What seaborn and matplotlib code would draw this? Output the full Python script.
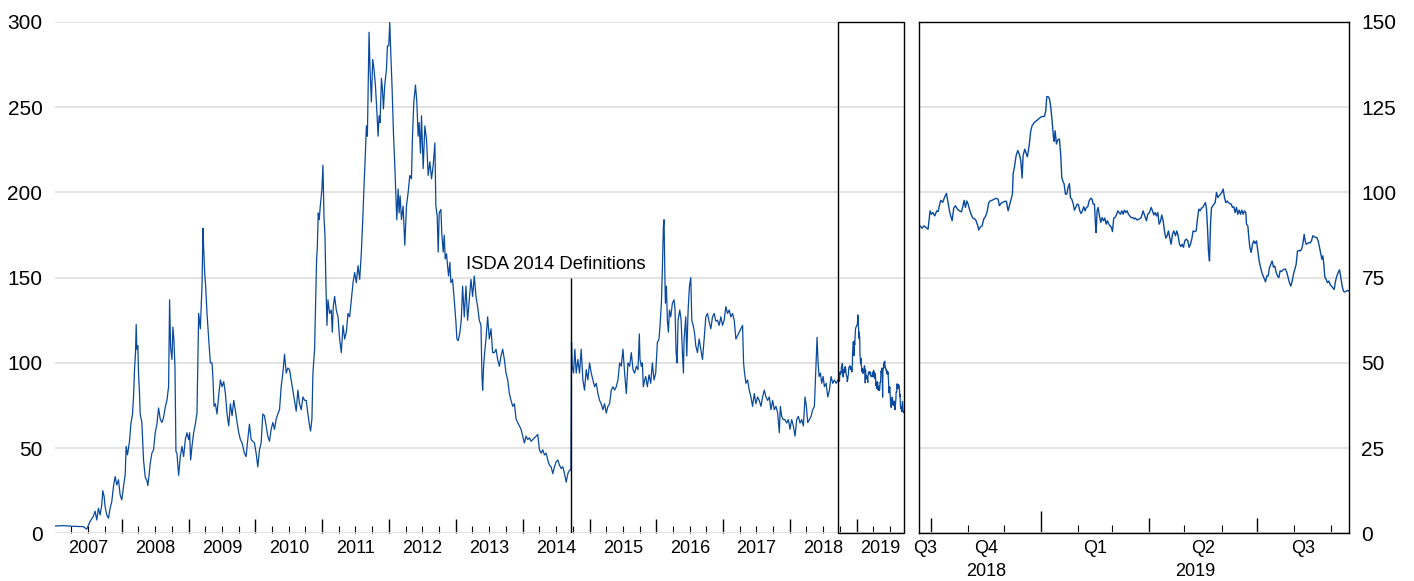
import numpy as np
import pandas as pd
import matplotlib
matplotlib.use('Agg')
import matplotlib.pyplot as plt
import matplotlib.transforms as mtransforms
from matplotlib.patches import Rectangle
import seaborn as sns

# serie larga, en anos decimales (2007 - sep 2018)
hist_t = [
    2007.000, 2007.125, 2007.275, 2007.425, 2007.475, 2007.525, 2007.575, 2007.600, 2007.625, 2007.650,
    2007.675, 2007.700, 2007.715, 2007.735, 2007.750, 2007.775, 2007.800, 2007.825, 2007.850, 2007.875,
    2007.900, 2007.925, 2007.950, 2007.975,
    2008.000, 2008.025, 2008.050, 2008.065, 2008.085, 2008.115, 2008.135, 2008.160, 2008.175, 2008.190,
    2008.205, 2008.215, 2008.225, 2008.240, 2008.250, 2008.265, 2008.275, 2008.300, 2008.325, 2008.350,
    2008.375, 2008.390, 2008.410, 2008.425, 2008.450, 2008.475, 2008.500, 2008.525, 2008.550, 2008.575,
    2008.600, 2008.625, 2008.650, 2008.675, 2008.700, 2008.715, 2008.730, 2008.750, 2008.765, 2008.780,
    2008.795, 2008.810, 2008.825, 2008.850, 2008.875, 2008.900, 2008.925, 2008.950, 2008.975,
    2009.000, 2009.015, 2009.030, 2009.050, 2009.075, 2009.100, 2009.125, 2009.150, 2009.175, 2009.200,
    2009.215, 2009.225, 2009.240, 2009.255, 2009.275, 2009.300, 2009.325, 2009.350, 2009.365, 2009.380,
    2009.400, 2009.425, 2009.450, 2009.475, 2009.500, 2009.525, 2009.550, 2009.575, 2009.600, 2009.625,
    2009.650, 2009.675, 2009.700, 2009.725, 2009.750, 2009.775, 2009.800, 2009.835, 2009.860, 2009.885,
    2009.910, 2009.935, 2009.960, 2009.985,
    2010.010, 2010.035, 2010.060, 2010.085, 2010.110, 2010.135, 2010.160, 2010.185, 2010.210, 2010.235,
    2010.260, 2010.285, 2010.310, 2010.335, 2010.360, 2010.385, 2010.410, 2010.435, 2010.460, 2010.485,
    2010.510, 2010.535, 2010.560, 2010.585, 2010.610, 2010.635, 2010.660, 2010.685, 2010.710, 2010.735,
    2010.760, 2010.785, 2010.810, 2010.825, 2010.845, 2010.860, 2010.885, 2010.900, 2010.915, 2010.925,
    2010.940, 2010.955, 2010.970, 2010.995,
    2011.010, 2011.025, 2011.040, 2011.055, 2011.070, 2011.085, 2011.110, 2011.135, 2011.150, 2011.165,
    2011.185, 2011.210, 2011.235, 2011.260, 2011.285, 2011.310, 2011.335, 2011.360, 2011.385, 2011.410,
    2011.435, 2011.460, 2011.485, 2011.510, 2011.535, 2011.560, 2011.585, 2011.610, 2011.625, 2011.645,
    2011.660, 2011.675, 2011.690, 2011.700, 2011.715, 2011.735, 2011.755, 2011.775, 2011.795, 2011.815,
    2011.835, 2011.850, 2011.865, 2011.885, 2011.900, 2011.915, 2011.935, 2011.960, 2011.975, 2011.995,
    2012.010, 2012.025, 2012.045, 2012.065, 2012.085, 2012.100, 2012.115, 2012.135, 2012.150, 2012.165,
    2012.185, 2012.210, 2012.235, 2012.260, 2012.285, 2012.310, 2012.335, 2012.350, 2012.370, 2012.395,
    2012.415, 2012.435, 2012.450, 2012.470, 2012.485, 2012.510, 2012.535, 2012.560, 2012.585, 2012.610,
    2012.635, 2012.660, 2012.685, 2012.700, 2012.720, 2012.735, 2012.750, 2012.775, 2012.790, 2012.810,
    2012.825, 2012.840, 2012.860, 2012.875, 2012.890, 2012.910, 2012.925, 2012.950, 2012.975,
    2013.000, 2013.015, 2013.035, 2013.060, 2013.080, 2013.100, 2013.125, 2013.150, 2013.175, 2013.200,
    2013.225, 2013.250, 2013.275, 2013.300, 2013.325, 2013.350, 2013.375, 2013.390, 2013.400, 2013.415,
    2013.430, 2013.450, 2013.475, 2013.500, 2013.525, 2013.550, 2013.575, 2013.600, 2013.625, 2013.650,
    2013.675, 2013.700, 2013.725, 2013.750, 2013.775, 2013.800, 2013.825, 2013.850, 2013.875, 2013.900,
    2013.925, 2013.950, 2013.975,
    2014.000, 2014.025, 2014.050, 2014.075, 2014.100, 2014.125, 2014.150, 2014.175, 2014.200, 2014.225,
    2014.250, 2014.275, 2014.300, 2014.325, 2014.350, 2014.375, 2014.400, 2014.425, 2014.450, 2014.475,
    2014.500, 2014.525, 2014.550, 2014.575, 2014.600, 2014.625, 2014.650, 2014.675, 2014.700, 2014.720,
    2014.730, 2014.740, 2014.760, 2014.780, 2014.800, 2014.825, 2014.850, 2014.875, 2014.900, 2014.925,
    2014.950, 2014.975,
    2015.000, 2015.025, 2015.050, 2015.075, 2015.100, 2015.125, 2015.150, 2015.175, 2015.200, 2015.225,
    2015.250, 2015.275, 2015.300, 2015.325, 2015.350, 2015.375, 2015.400, 2015.425, 2015.450, 2015.475,
    2015.500, 2015.525, 2015.550, 2015.575, 2015.600, 2015.625, 2015.650, 2015.675, 2015.700, 2015.725,
    2015.745, 2015.755, 2015.775, 2015.790, 2015.805, 2015.825, 2015.840, 2015.865, 2015.890, 2015.915,
    2015.940, 2015.965, 2015.990,
    2016.015, 2016.040, 2016.055, 2016.075, 2016.090, 2016.105, 2016.115, 2016.125, 2016.135, 2016.150,
    2016.165, 2016.180, 2016.195, 2016.215, 2016.240, 2016.265, 2016.280, 2016.295, 2016.310, 2016.325,
    2016.350, 2016.370, 2016.390, 2016.405, 2016.415, 2016.440, 2016.455, 2016.475, 2016.495, 2016.515,
    2016.530, 2016.550, 2016.570, 2016.590, 2016.615, 2016.640, 2016.665, 2016.690, 2016.715, 2016.740,
    2016.765, 2016.790, 2016.815, 2016.840, 2016.865, 2016.890, 2016.915, 2016.940, 2016.965, 2016.990,
    2017.015, 2017.040, 2017.065, 2017.090, 2017.115, 2017.140, 2017.165, 2017.190, 2017.215, 2017.240,
    2017.265, 2017.290, 2017.305, 2017.320, 2017.340, 2017.365, 2017.390, 2017.415, 2017.440, 2017.465,
    2017.490, 2017.515, 2017.540, 2017.565, 2017.590, 2017.615, 2017.640, 2017.665, 2017.690, 2017.715,
    2017.740, 2017.765, 2017.790, 2017.815, 2017.840, 2017.855, 2017.875, 2017.900, 2017.925, 2017.950,
    2017.975,
    2018.000, 2018.025, 2018.050, 2018.075, 2018.100, 2018.125, 2018.150, 2018.175, 2018.200, 2018.225,
    2018.245, 2018.265, 2018.290, 2018.315, 2018.340, 2018.365, 2018.380, 2018.395, 2018.405, 2018.420,
    2018.435, 2018.455, 2018.475, 2018.495, 2018.515, 2018.540, 2018.565, 2018.590, 2018.615, 2018.640,
    2018.665, 2018.690,
]
hist_v = [
    4.3, 4.5, 4.1, 3.9, 2.4, 7, 10, 13, 7.8, 14.7,
    10.8, 16.7, 25, 21.6, 15.7, 10.8, 8.8, 14.7, 18.6, 27.5,
    33.3, 28.4, 31.4, 22.5,
    19.6, 27.5, 34.3, 51, 46, 54, 64, 70, 80, 96,
    106, 122.5, 108, 110, 94, 82, 70, 65, 43, 33,
    31, 28, 35, 41, 47, 49, 59, 64, 73.5, 67,
    65, 68, 74, 78, 86, 137, 109, 102, 121, 113,
    98, 48, 47, 34, 45, 51, 45, 55, 59,
    55, 59, 43, 51, 59, 64, 70.6, 129, 120, 145,
    179, 167, 153, 145, 129, 114, 100, 100, 90, 74.5,
    76, 70, 81, 90, 86, 89, 82, 70, 63, 76,
    69, 78, 72, 65, 59, 55, 53, 47, 45, 55,
    64, 55, 54, 53,
    47, 39, 49, 53, 70, 69, 63, 57, 54, 61,
    65, 61, 67, 70, 72.5, 86, 94, 105, 94, 97,
    96, 90, 84, 78, 71.6, 84, 76, 72.5, 80, 78,
    78, 70, 63, 60, 67, 94, 108, 135, 161, 167,
    188, 184, 192, 202,
    216, 186, 175, 145, 122, 137, 129, 131, 118, 133,
    139, 131, 127, 114, 106, 122, 114, 118, 129, 127,
    137, 147, 153, 147, 157, 149, 165, 188, 204, 223,
    239, 233, 269, 294, 272, 253, 278, 272, 263, 249,
    233, 245, 241, 267, 261, 249, 263, 272, 286, 286,
    300, 282, 261, 235, 216, 200, 184, 202, 188, 198,
    184, 192, 169, 192, 200, 210, 208, 233, 253, 263,
    253, 233, 241, 223, 245, 214, 239, 231, 210, 218,
    208, 216, 229, 192, 186, 165, 188, 190, 175, 165,
    175, 161, 164, 157, 151, 159, 147, 149, 137,
    124, 114, 113, 118, 125, 145, 127, 145, 125, 137,
    149, 139, 151, 139, 133, 125, 122, 92, 84, 98,
    106, 114, 127, 114, 120, 106, 106, 108, 102, 98,
    104, 108, 102, 94, 90, 82, 78, 74.5, 76, 67,
    65, 63, 61,
    57, 53, 57, 55, 56, 54, 55, 56, 57, 58,
    49, 47, 49, 46, 47, 43, 40, 39, 35, 39,
    42, 43, 40, 38, 39, 35, 30, 35, 37, 37,
    112, 98, 94, 108, 94, 102, 94, 108, 90, 84,
    96, 90,
    100, 94, 90, 86, 88, 82, 78, 76, 72.5, 76,
    70.6, 74.5, 76, 84, 86, 84, 86, 90, 100, 98,
    108, 94, 82, 100, 98, 106, 96, 94, 98, 96,
    117, 102, 98, 100, 86, 90, 92, 86, 93, 88,
    100, 90, 94,
    112, 114, 122, 135, 155, 180, 184, 157, 135, 145,
    125, 118, 131, 127, 135, 137, 131, 106, 100, 125,
    131, 125, 106, 94, 114, 127, 104, 131, 145, 150,
    125, 122, 118, 110, 106, 114, 108, 102, 114, 127,
    129, 124, 120, 127, 129, 124.5, 125, 122, 127, 122,
    125, 133, 129, 131, 127, 129, 125, 114, 116, 118,
    120, 122, 100, 94, 88, 90, 84, 80, 74.5, 82,
    76, 80, 78, 74.5, 80, 84, 80, 78, 80, 72.5,
    78, 72.5, 74.5, 70.6, 59, 74.5, 68.6, 66.7, 66.7, 64.7,
    66.7,
    61, 66.7, 63, 57, 66.7, 68.6, 64.7, 66.7, 63, 80,
    74.5, 65, 66.7, 68.6, 72.5, 74.5, 90, 106, 115, 100,
    92, 94, 88, 92, 86, 88, 80, 84, 92, 88,
    90, 88,
]

# ultimos doce meses, con mas detalle (sep 2018 - sep 2019)
recent_t = [
    2018.7225, 2018.7271, 2018.7316, 2018.7362, 2018.7408, 2018.7454, 2018.7485, 2018.7515, 2018.7561, 2018.7607,
    2018.7638, 2018.7668, 2018.7699, 2018.7745, 2018.7790, 2018.7829, 2018.7867, 2018.7898, 2018.7928, 2018.7959,
    2018.7997, 2018.8035, 2018.8081, 2018.8127, 2018.8173, 2018.8203, 2018.8234, 2018.8264, 2018.8295, 2018.8326,
    2018.8356, 2018.8394, 2018.8433, 2018.8478, 2018.8509, 2018.8547, 2018.8570, 2018.8609, 2018.8647, 2018.8685,
    2018.8723, 2018.8761, 2018.8800, 2018.8830, 2018.8876, 2018.8922, 2018.8968, 2018.9014, 2018.9044, 2018.9082,
    2018.9121, 2018.9166, 2018.9205, 2018.9243, 2018.9273, 2018.9312, 2018.9342, 2018.9358, 2018.9388, 2018.9427,
    2018.9465, 2018.9503, 2018.9534, 2018.9564, 2018.9587, 2018.9625, 2018.9664, 2018.9686, 2018.9725, 2018.9763,
    2018.9794, 2018.9847, 2018.9901, 2018.9947, 2018.9992, 2019.0038, 2019.0076, 2019.0107, 2019.0130, 2019.0160,
    2019.0191, 2019.0222, 2019.0252, 2019.0283, 2019.0298, 2019.0321, 2019.0351, 2019.0382, 2019.0420, 2019.0451,
    2019.0474, 2019.0497, 2019.0527, 2019.0558, 2019.0589, 2019.0619, 2019.0650, 2019.0672, 2019.0703, 2019.0734,
    2019.0764, 2019.0795, 2019.0826, 2019.0856, 2019.0887, 2019.0917, 2019.0948, 2019.0978, 2019.1009, 2019.1039,
    2019.1070, 2019.1101, 2019.1139, 2019.1169, 2019.1192, 2019.1223, 2019.1246, 2019.1261, 2019.1284, 2019.1307,
    2019.1338, 2019.1368, 2019.1399, 2019.1430, 2019.1460, 2019.1491, 2019.1521, 2019.1552, 2019.1582, 2019.1613,
    2019.1636, 2019.1666, 2019.1697, 2019.1727, 2019.1758, 2019.1789, 2019.1819, 2019.1850, 2019.1881, 2019.1911,
    2019.1942, 2019.1972, 2019.2003, 2019.2034, 2019.2064, 2019.2102, 2019.2140, 2019.2156, 2019.2202, 2019.2247,
    2019.2293, 2019.2339, 2019.2377, 2019.2416, 2019.2446, 2019.2484, 2019.2523, 2019.2553, 2019.2584, 2019.2614,
    2019.2645, 2019.2676, 2019.2706, 2019.2737, 2019.2767, 2019.2798, 2019.2829, 2019.2859, 2019.2890, 2019.2920,
    2019.2951, 2019.2981, 2019.3012, 2019.3043, 2019.3081, 2019.3111, 2019.3142, 2019.3173, 2019.3203, 2019.3234,
    2019.3264, 2019.3295, 2019.3325, 2019.3364, 2019.3394, 2019.3425, 2019.3455, 2019.3486, 2019.3524, 2019.3555,
    2019.3585, 2019.3616, 2019.3647, 2019.3677, 2019.3708, 2019.3738, 2019.3769, 2019.3792, 2019.3815, 2019.3838,
    2019.3861, 2019.3884, 2019.3906, 2019.3937, 2019.3968, 2019.3991, 2019.4021, 2019.4052, 2019.4082, 2019.4113,
    2019.4144, 2019.4174, 2019.4205, 2019.4235, 2019.4266, 2019.4296, 2019.4327, 2019.4358, 2019.4388, 2019.4419,
    2019.4449, 2019.4480, 2019.4510, 2019.4541, 2019.4572, 2019.4602, 2019.4633, 2019.4663, 2019.4694, 2019.4709,
    2019.4740, 2019.4763, 2019.4786, 2019.4816, 2019.4847, 2019.4877, 2019.4908, 2019.4939, 2019.4969, 2019.5000,
    2019.5030, 2019.5061, 2019.5091, 2019.5122, 2019.5145, 2019.5176, 2019.5206, 2019.5237, 2019.5267, 2019.5298,
    2019.5328, 2019.5359, 2019.5390, 2019.5420, 2019.5451, 2019.5481, 2019.5512, 2019.5542, 2019.5573, 2019.5604,
    2019.5634, 2019.5665, 2019.5695, 2019.5726, 2019.5757, 2019.5787, 2019.5818, 2019.5848, 2019.5879, 2019.5909,
    2019.5940, 2019.5971, 2019.6001, 2019.6032, 2019.6055, 2019.6078, 2019.6108, 2019.6139, 2019.6169, 2019.6200,
    2019.6231, 2019.6261, 2019.6292, 2019.6322, 2019.6353, 2019.6384, 2019.6414, 2019.6437, 2019.6460, 2019.6483,
    2019.6506, 2019.6536, 2019.6567, 2019.6598, 2019.6628, 2019.6659, 2019.6689, 2019.6720, 2019.6751, 2019.6781,
    2019.6812, 2019.6842, 2019.6873, 2019.6903, 2019.6934, 2019.6965, 2019.6995, 2019.7033, 2019.7060,
]
recent_v = [
    90.2, 89.5, 90.2, 89.7, 89.2, 94.6, 93.6, 94.1, 93.1, 94.6,
    94.4, 96.1, 97.7, 97.1, 98.7, 99.7, 97.0, 94.6, 93.1, 91.7,
    95.4, 96.1, 95.1, 94.6, 94.3, 95.8, 97.7, 95.6, 97.5, 96.6,
    95.1, 93.6, 92.5, 92.2, 91.7, 90.2, 89.0, 89.9, 90.2, 92.2,
    92.9, 94.3, 97.0, 97.5, 97.7, 98.0, 98.3, 98.0, 96.1, 96.8,
    97.1, 97.4, 97.4, 94.6, 96.1, 98.0, 99.5, 105.4, 107.4, 110.8,
    112.3, 111.1, 109.3, 104.2, 110.8, 112.7, 111.2, 110.5, 113.7, 118.1,
    119.6, 120.6, 121.1, 121.6, 122.1, 122.3, 122.3, 124.0, 128.1, 128.1,
    127.5, 125.0, 121.0, 116.2, 115.0, 118.1, 114.2, 115.4, 115.7, 110.8,
    104.4, 103.4, 102.5, 99.5, 99.5, 101.5, 102.6, 98.5, 98.0, 96.8,
    94.8, 95.6, 96.6, 96.4, 94.6, 93.8, 94.6, 95.8, 94.6, 95.6,
    95.8, 97.5, 98.3, 98.0, 96.6, 96.6, 90.7, 88.2, 94.6, 95.6,
    93.1, 91.2, 92.6, 91.7, 92.5, 90.7, 91.7, 90.7, 90.2, 89.7,
    88.5, 92.5, 92.7, 93.4, 94.6, 94.1, 93.6, 94.6, 93.6, 94.8,
    94.1, 94.6, 93.6, 93.1, 92.6, 92.6, 92.2, 92.5, 91.9, 92.2,
    92.6, 94.6, 93.1, 91.7, 93.6, 94.1, 95.6, 94.6, 93.4, 94.1,
    93.1, 94.1, 90.7, 91.5, 93.4, 91.7, 88.7, 86.6, 87.3, 88.7,
    86.6, 84.8, 87.7, 88.7, 87.3, 88.7, 87.3, 84.8, 84.1, 84.8,
    83.9, 85.8, 86.3, 85.8, 83.9, 84.8, 86.3, 88.7, 88.5, 88.7,
    92.2, 95.1, 94.6, 95.4, 95.6, 96.4, 97.0, 95.1, 89.7, 82.8,
    79.9, 90.7, 95.4, 96.1, 96.6, 97.0, 100.0, 98.5, 99.0, 99.5,
    100.0, 101.0, 98.5, 97.0, 97.5, 97.0, 96.7, 96.6, 95.6, 95.8,
    94.1, 95.6, 93.6, 94.8, 93.6, 94.8, 93.6, 94.6, 94.1, 90.7,
    90.2, 86.8, 83.9, 82.4, 84.8, 85.8, 85.0, 85.8, 82.8, 79.9,
    78.1, 76.5, 75.5, 74.5, 73.8, 75.5, 75.5, 77.9, 78.9, 79.9,
    78.1, 78.4, 76.5, 75.5, 75.0, 77.0, 76.8, 77.2, 77.5, 77.5,
    76.5, 75.0, 73.5, 72.5, 74.0, 76.0, 77.5, 78.9, 82.8, 83.0,
    82.8, 83.3, 84.8, 87.7, 85.8, 84.8, 85.0, 85.3, 85.2, 85.8,
    87.3, 87.0, 86.8, 86.8, 85.8, 83.9, 81.9, 80.4, 81.4, 78.9,
    75.2, 74.5, 73.5, 74.0, 73.0, 72.5, 72.0, 71.5, 74.0, 75.5,
    76.5, 77.3, 75.0, 72.5, 71.0, 70.8, 71.0, 71.3, 71.0,
]

year_labels = [str(y) for y in range(2007, 2020)]
quarter_labels = ['Q3', 'Q4', 'Q1', 'Q2', 'Q3']
zoom_year_labels = ['2018', '2019']
isda_date = 2014.725
isda_text = 'ISDA 2014 Definitions'
zoom_start, zoom_end = 2018.72, 2019.706

blue = '#0a4a9e'
grid_col = '#e0e0e0'


def dec(y, m, d=1):
    ts = pd.Timestamp(y, m, d)
    return y + (ts.dayofyear - 1) / (366 if ts.is_leap_year else 365)


full = pd.DataFrame({'t': hist_t + recent_t, 'v': hist_v + recent_v})
last = pd.DataFrame({'t': recent_t, 'v': recent_v})

sns.set_style('white')
plt.rcParams['font.family'] = ['Liberation Sans', 'DejaVu Sans']
plt.rcParams['text.color'] = 'black'
plt.rcParams['xtick.color'] = 'black'
plt.rcParams['ytick.color'] = 'black'

fig = plt.figure(figsize=(14.14, 5.81), dpi=100)
ax1 = fig.add_axes([55 / 1414, 47.7 / 581, (904 - 55) / 1414, 511.3 / 581])
ax2 = fig.add_axes([919 / 1414, 47.7 / 581, (1349 - 919) / 1414, 511.3 / 581])

# --- panel izquierdo: historia completa
sns.lineplot(data=full, x='t', y='v', ax=ax1, color=blue, lw=0.9, estimator=None, sort=False)
ax1.set_xlim(2007.0, zoom_end)
ax1.set_ylim(0, 300)
ax1.set_yticks(range(0, 301, 50))
ax1.set_axisbelow(True)
ax1.yaxis.grid(True, color=grid_col, lw=1.3)
ax1.xaxis.grid(False)
for s in ax1.spines.values():
    s.set_visible(False)
ax1.set_xlabel('')
ax1.set_ylabel('')

ax1.set_xticks(range(2008, 2020))
qt = [dec(y, m) for y in range(2007, 2020) for m in (4, 7, 10) if dec(y, m) < zoom_end]
ax1.set_xticks(qt, minor=True)
ax1.tick_params(axis='x', which='major', bottom=True, direction='in', length=10, width=1,
                color='black', labelbottom=False)
ax1.tick_params(axis='x', which='minor', bottom=True, direction='in', length=5, width=0.8,
                color='black', labelbottom=False)
ax1.tick_params(axis='y', left=False, length=0, pad=9, labelsize=15, labelcolor='black')

trans1 = mtransforms.blended_transform_factory(ax1.transData, ax1.transAxes)
for lab in year_labels:
    y = int(lab)
    xc = y + 0.5 if y + 1 <= zoom_end else (y + zoom_end) / 2
    ax1.text(xc, -0.029, lab, transform=trans1, ha='center', va='center', fontsize=13)

ax1.vlines(isda_date, 0, 150, color='black', lw=1, zorder=5)
ax1.text(2013.155, 155, isda_text, fontsize=13.3, ha='left', va='baseline')
ax1.add_patch(Rectangle((zoom_start, 0), zoom_end - zoom_start, 300, fill=False,
                        ec='black', lw=1, clip_on=False, zorder=6))

# --- panel derecho: ultimo ano
sns.lineplot(data=last, x='t', y='v', ax=ax2, color=blue, lw=1.0, estimator=None, sort=False)
ax2.set_xlim(zoom_start, zoom_end)
ax2.set_ylim(0, 150)
ax2.set_yticks(range(0, 151, 25))
ax2.yaxis.tick_right()
ax2.set_axisbelow(True)
ax2.yaxis.grid(True, color=grid_col, lw=1.3)
ax2.xaxis.grid(False)
for s in ax2.spines.values():
    s.set_visible(True)
    s.set_color('black')
    s.set_linewidth(1)
ax2.set_xlabel('')
ax2.set_ylabel('')

jan = dec(2019, 1)
q_starts = [dec(2018, 10), jan, dec(2019, 4), dec(2019, 7)]
months = [dec(2018, m) for m in (11, 12)] + [dec(2019, m) for m in (2, 3, 5, 6, 8, 9)]
ax2.set_xticks(q_starts)
ax2.set_xticks(months, minor=True)
ax2.tick_params(axis='x', which='major', bottom=True, direction='in', length=11, width=1,
                color='black', labelbottom=False)
ax2.tick_params(axis='x', which='minor', bottom=True, direction='in', length=6, width=0.8,
                color='black', labelbottom=False)
ax2.tick_params(axis='y', which='both', length=0, pad=9, labelsize=15, left=False, right=False,
                labelleft=False, labelright=True, labelcolor='black')
for tk, loc in zip(ax2.xaxis.get_major_ticks(), q_starts):
    if loc == jan:
        tk.tick1line.set_markersize(16)

bounds = [zoom_start] + q_starts + [zoom_end]
trans2 = mtransforms.blended_transform_factory(ax2.transData, ax2.transAxes)
for i, lab in enumerate(quarter_labels):
    ax2.text((bounds[i] + bounds[i + 1]) / 2, -0.029, lab, transform=trans2,
             ha='center', va='center', fontsize=13)
ax2.text((bounds[1] + bounds[2]) / 2, -0.074, zoom_year_labels[0], transform=trans2,
         ha='center', va='center', fontsize=13)
ax2.text((jan + zoom_end) / 2, -0.074, zoom_year_labels[1], transform=trans2,
         ha='center', va='center', fontsize=13)

fig.savefig('out.png', dpi=100)
